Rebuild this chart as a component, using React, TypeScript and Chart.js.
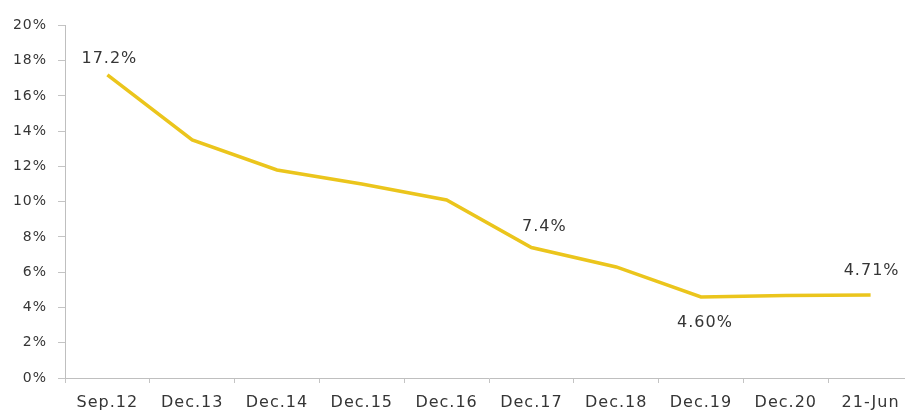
import React, { useEffect, useRef } from "react";
import { Chart, registerables } from "chart.js";

Chart.register(...registerables);

const categories = ["Sep.12", "Dec.13", "Dec.14", "Dec.15", "Dec.16", "Dec.17", "Dec.18", "Dec.19", "Dec.20", "21-Jun"];
const rates = [17.2, 13.5, 11.8, 11.0, 10.1, 7.4, 6.3, 4.6, 4.68, 4.71];
const pointLabels = ["17.2%", "", "", "", "", "7.4%", "", "4.60%", "", "4.71%"];
const labelOffsets: [number, number][] = [
  [2, -16], [0, 0], [0, 0], [0, 0], [0, 0], [13, -21], [0, 0], [4, 26], [0, 0], [1, -24],
];

const FONT = "'DejaVu Sans', Verdana, sans-serif";
const TEXT = "#353535";

export default function App() {
  const ref = useRef<HTMLCanvasElement>(null);
  useEffect(() => {
    if (!ref.current) return;
    const labelPlugin = {
      id: "pointLabels",
      beforeDraw(chart: any) {
        (chart.ctx as any).letterSpacing = "1px";
      },
      afterDatasetsDraw(chart: any) {
        const ctx = chart.ctx;
        const meta = chart.getDatasetMeta(0);
        ctx.save();
        (ctx as any).letterSpacing = "1px";
        ctx.font = `16px ${FONT}`;
        ctx.fillStyle = TEXT;
        ctx.textAlign = "center";
        ctx.textBaseline = "middle";
        pointLabels.forEach((t, i) => {
          if (!t) return;
          const p = meta.data[i];
          ctx.fillText(t, p.x + labelOffsets[i][0], p.y + labelOffsets[i][1]);
        });
        ctx.restore();
      },
    };
    const chart = new Chart(ref.current, {
      type: "line",
      data: {
        labels: categories,
        datasets: [
          {
            data: rates,
            borderColor: "#EBC51C",
            borderWidth: 3.5,
            pointRadius: 0,
            tension: 0,
            fill: false,
          },
        ],
      },
      options: {
        animation: false,
        responsive: false,
        maintainAspectRatio: false,
        layout: { padding: { top: 14, left: 0, right: 0, bottom: 0 } },
        plugins: { legend: { display: false }, tooltip: { enabled: false } },
        scales: {
          x: {
            offset: true,
            grid: { display: true, drawOnChartArea: false, offset: true, tickLength: 5, color: "#c4c4c4" },
            border: { color: "#bfbfbf", width: 1 },
            ticks: { color: TEXT, font: { family: FONT, size: 16 }, padding: 10, maxRotation: 0, autoSkip: false },
            afterFit: (s: any) => { s.height = 35; },
          },
          y: {
            min: 0,
            max: 20,
            grid: { display: true, drawOnChartArea: false, tickLength: 7, color: "#c4c4c4" },
            border: { color: "#bfbfbf", width: 1 },
            ticks: {
              stepSize: 2,
              color: TEXT,
              font: { family: FONT, size: 14 },
              padding: 11,
              callback: (v: any) => `${v}%`,
            },
            afterFit: (s: any) => { s.width = 65; },
          },
        },
      },
      plugins: [labelPlugin],
    });
    return () => chart.destroy();
  }, []);
  return (
    <div style={{ position: "fixed", left: 0, top: 0, width: 905, height: 413, overflow: "hidden", background: "#fff" }}>
      <canvas ref={ref} width={913} height={407} style={{ display: "block", marginTop: 6 }} />
    </div>
  );
}
